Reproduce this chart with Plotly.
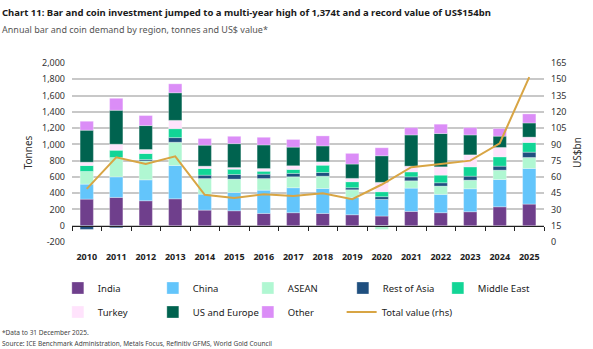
import plotly.graph_objects as go

years = [str(y) for y in range(2010, 2026)]

india = [327, 348, 307, 331, 192, 184, 151, 160, 151, 135, 119, 176, 160, 172, 233, 266]
china = [184, 253, 257, 409, 196, 225, 286, 307, 307, 213, 205, 286, 225, 282, 335, 438]
asean = [156, 237, 233, 286, 192, 164, 143, 135, 151, 94, -45, 90, 102, 106, 115, 135]
rest_of_asia = [-45, -25, 17, 57, 41, 57, 53, 41, 45, 25, 33, 49, 41, 49, 49, 65]
middle_east = [73, 90, 74, 110, 82, 65, 37, 49, 90, 74, 61, 61, 94, 115, 115, 119]
turkey = [41, 74, 49, 102, 29, 20, 33, 45, 41, 41, 115, 70, 102, 147, 115, 66]
us_europe = [393, 417, 294, 339, 258, 294, 290, 229, 196, 176, 327, 384, 409, 245, 139, 174]
other = [110, 147, 123, 110, 82, 90, 94, 94, 123, 131, 98, 90, 115, 90, 94, 111]
total_value = [49, 78, 72, 79, 43.5, 40.5, 44, 42.5, 45, 39.5, 53, 69, 72, 75, 91, 152]

left_tickvals = list(range(-200, 2001, 200))
left_ticktext = ["-200", "0", "200", "400", "600", "800", "1,000", "1,200", "1,400", "1,600", "1,800", "2,000"]
right_tickvals = list(range(0, 166, 15))

series = [
    ("India", india, "#6f3f8c"),
    ("China", china, "#63c5fb"),
    ("ASEAN", asean, "#b0f7d2"),
    ("Rest of Asia", rest_of_asia, "#1f4f7f"),
    ("Middle East", middle_east, "#12d596"),
    ("Turkey", turkey, "#ffe3fc"),
    ("US and Europe", us_europe, "#00634f"),
    ("Other", other, "#db8df7"),
]

FONT = "Noto Sans"
PH = 179.0  # plot height in px
PW = 474.0  # plot width in px
fig = go.Figure()
for i, (name, vals, col) in enumerate(series):
    fig.add_trace(go.Bar(
        x=years, y=vals, name=name, width=0.45,
        marker=dict(color=col, line=dict(color="rgba(255,255,255,0.6)", width=0.5)),
        legend="legend" if i < 5 else "legend2",
    ))

fig.add_trace(go.Scatter(
    x=years, y=total_value, name="Total value (rhs)", mode="lines",
    line=dict(color="#d8a544", width=2), yaxis="y2", legend="legend3",
))

leg_common = dict(orientation="h", xanchor="left", yanchor="middle",
                  font=dict(size=9.5, color="#222222"),
                  bgcolor="rgba(0,0,0,0)", traceorder="normal")

fig.update_layout(
    width=593, height=349,
    margin=dict(l=72, r=47, t=63, b=107),
    barmode="relative",
    plot_bgcolor="white", paper_bgcolor="white",
    font=dict(family=FONT, size=9, color="#333333"),
    xaxis=dict(
        type="category", range=[-0.5, 15.5],
        anchor="free", position=200 / 2200,
        showline=True, linecolor="#222222", linewidth=1,
        ticks="outside", tickson="boundaries", ticklen=4, tickcolor="#222222",
        ticklabelstandoff=22, tickangle=0,
        tickfont=dict(family=FONT, size=9, color="#222222", weight="bold"),
        showgrid=False,
    ),
    yaxis=dict(
        range=[-200, 2000], tickvals=left_tickvals, ticktext=left_ticktext,
        showgrid=True, gridcolor="#c8c8c8", gridwidth=1.5,
        zeroline=False, ticks="", ticklabelstandoff=6,
        title=dict(text="Tonnes", font=dict(size=10, color="#333333"), standoff=7),
        tickfont=dict(size=9, color="#333333"),
    ),
    yaxis2=dict(
        overlaying="y", side="right", range=[0, 165],
        tickvals=right_tickvals, showgrid=False, zeroline=False,
        ticklabelstandoff=6,
        title=dict(text="US$bn", font=dict(size=10, color="#333333"), standoff=8),
        tickfont=dict(size=9, color="#333333"),
    ),
    legend=dict(x=-0.03, y=-(288 - 242) / PH, entrywidth=50, entrywidthmode="pixels", **leg_common),
    legend2=dict(x=-0.03, y=-(312 - 242) / PH, entrywidth=50, entrywidthmode="pixels", **leg_common),
    legend3=dict(x=-0.03 + 285 / PW, y=-(312 - 242) / PH, **leg_common),
    showlegend=True,
)

fig.add_annotation(
    text="<b>Chart 11: Bar and coin investment jumped to a multi-year high of 1,374t and a record value of US$154bn</b>",
    xref="paper", yref="paper", x=-72 / PW, y=1 + (63 - 12) / PH, xanchor="left", yanchor="middle",
    showarrow=False, font=dict(size=9.5, color="#1a1a1a"),
)
fig.add_annotation(
    text="Annual bar and coin demand by region, tonnes and US$ value*",
    xref="paper", yref="paper", x=-72 / PW, y=1 + (63 - 29) / PH, xanchor="left", yanchor="middle",
    showarrow=False, font=dict(size=9, color="#555555"),
)
fig.add_annotation(
    text="*Data to 31 December 2025.",
    xref="paper", yref="paper", x=-72 / PW, y=-(332 - 242) / PH, xanchor="left", yanchor="middle",
    showarrow=False, font=dict(size=6.5, color="#444444"),
)
fig.add_annotation(
    text="Source: ICE Benchmark Administration, Metals Focus, Refinitiv GFMS, World Gold Council",
    xref="paper", yref="paper", x=-72 / PW, y=-(343 - 242) / PH, xanchor="left", yanchor="middle",
    showarrow=False, font=dict(size=6.5, color="#444444"),
)

fig.write_html("out.html")
